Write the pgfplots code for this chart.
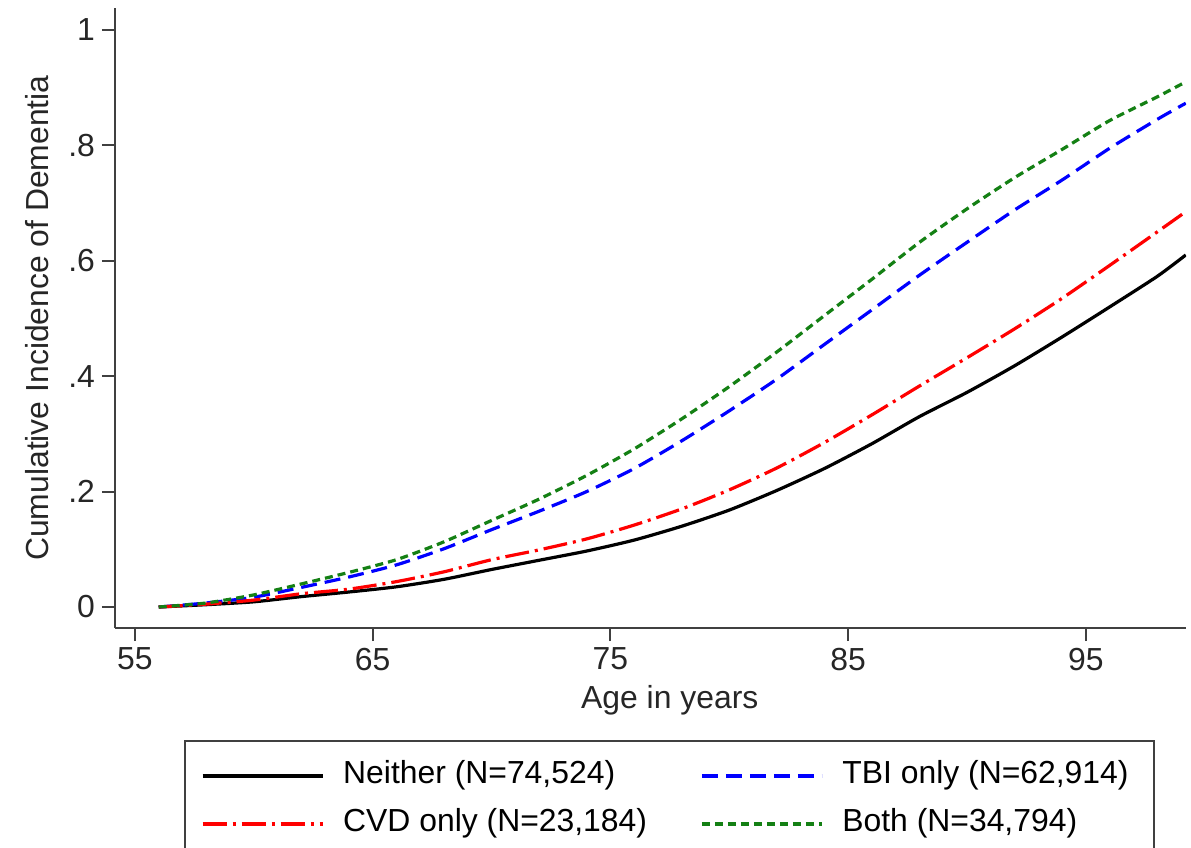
\documentclass[border=0pt]{standalone}
\usepackage{fontspec}
\setmainfont{Liberation Sans}
\usepackage{pgfplots}
\usepackage{pgfplotstable}
\pgfplotsset{compat=1.18}

\definecolor{stgreen}{RGB}{20,128,20}

% cumulative incidence by age
\pgfplotstableread{
age   neither  cvd    tbi    both
56.0  0.000    0.000  0.000  0.000
58.0  0.004    0.005  0.007  0.007
60.0  0.009    0.012  0.017  0.021
62.0  0.018    0.023  0.034  0.040
64.0  0.026    0.031  0.052  0.060
66.0  0.035    0.044  0.073  0.082
68.0  0.048    0.061  0.101  0.113
70.0  0.065    0.082  0.134  0.150
72.0  0.081    0.099  0.166  0.187
74.0  0.097    0.118  0.200  0.228
76.0  0.116    0.142  0.240  0.274
78.0  0.140    0.170  0.288  0.326
80.0  0.168    0.203  0.340  0.382
82.0  0.202    0.241  0.395  0.442
84.0  0.240    0.285  0.455  0.505
86.0  0.283    0.333  0.515  0.568
88.0  0.330    0.383  0.575  0.632
90.0  0.372    0.432  0.632  0.690
92.0  0.418    0.482  0.688  0.744
94.0  0.468    0.535  0.740  0.793
96.0  0.520    0.592  0.795  0.843
98.0  0.573    0.650  0.845  0.884
99.2  0.610    0.685  0.873  0.910
}\cuminc

\begin{document}
\begin{tikzpicture}
\useasboundingbox (0bp,0bp) rectangle (595.5bp,-424bp);
\begin{axis}[
  at={(57.5bp,-314bp)}, anchor=south west,
  scale only axis, width=535.5bp, height=310bp,
  xmin=54.16, xmax=99.21, ymin=-0.0364, ymax=1.038,
  axis x line*=bottom, axis y line*=left,
  axis line style={line width=1.1bp, black!75, -},
  tick align=outside, major tick length=6.5bp,
  tick style={line width=1bp, black!75},
  xtick={55,65,75,85,95}, xticklabels={55,65,75,85,95},
  ytick={0,0.2,0.4,0.6,0.8,1}, yticklabels={0,.2,.4,.6,.8,1},
  tick label style={font=\fontsize{16}{19}\selectfont, text=black!85},
  xlabel={Age in years}, ylabel={Cumulative Incidence of Dementia},
  every axis x label/.style={at={(axis description cs:0.518,-0.116)}, anchor=center,
    font=\fontsize{16}{19}\selectfont, text=black!85},
  every axis y label/.style={at={(axis description cs:-0.0728,0.5)}, rotate=90, anchor=center,
    font=\fontsize{16}{19}\selectfont, text=black!85},
  legend columns=2, legend cell align=left,
  legend image code/.code={\draw[#1] (0bp,0bp) -- (60bp,0bp);},
  legend style={at={(0.0644,-0.1806)}, anchor=north west,
    draw=black!75, line width=1bp, inner xsep=8bp, inner ysep=9.5bp,
    column sep=9.5bp, row sep=8bp,
    font=\fontsize{16}{19}\selectfont,
    nodes={inner sep=0pt, text height=12bp, text depth=4bp}},
]
\addplot[black, line width=1.6bp, smooth, tension=0.4] table[x=age, y=neither] {\cuminc};
\addlegendentry{\makebox[169bp][l]{Neither (N=74,524)}}
\addplot[blue, line width=1.6bp, smooth, tension=0.4, dash pattern=on 8bp off 4bp] table[x=age, y=tbi] {\cuminc};
\addlegendentry{\makebox[148bp][l]{TBI only (N=62,914)}}
\addplot[red, line width=1.6bp, smooth, tension=0.4, dash pattern=on 12bp off 3bp on 1.5bp off 3bp] table[x=age, y=cvd] {\cuminc};
\addlegendentry{\makebox[169bp][l]{CVD only (N=23,184)}}
\addplot[stgreen, line width=1.6bp, smooth, tension=0.4, dash pattern=on 4bp off 2.5bp] table[x=age, y=both] {\cuminc};
\addlegendentry{\makebox[148bp][l]{Both (N=34,794)}}
\end{axis}
\end{tikzpicture}
\end{document}
